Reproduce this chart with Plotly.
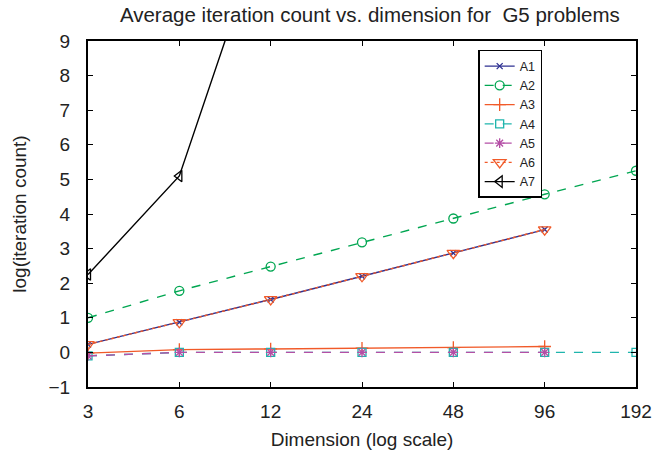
import plotly.graph_objects as go

dims = [3, 6, 12, 24, 48, 96, 192]
tick_labels = ["3", "6", "12", "24", "48", "96", "192"]

A1 = [0.23, 0.87, 1.53, 2.20, 2.87, 3.55]
A2 = [1.00, 1.78, 2.48, 3.18, 3.87, 4.57, 5.25]
A3 = [-0.02, 0.08, 0.10, 0.12, 0.14, 0.17]
A4 = [-0.10, 0.0, 0.0, 0.0, 0.0, 0.0, 0.0]
A5 = [-0.10, 0.0, 0.0, 0.0, 0.0, 0.0]
A6 = [0.23, 0.87, 1.53, 2.20, 2.87, 3.55]
A7 = [2.25, 5.10, 12.9]

series = [
    ("A1", A1, "#2e3192", "solid", "x-thin-open", 6),
    ("A2", A2, "#00a651", "dash", "circle-open", 9),
    ("A3", A3, "#f15a29", "solid", "cross-thin-open", 9),
    ("A4", A4, "#1fb5ad", "dash", "square-open", 8),
    ("A5", A5, "#b44fa6", "dash", "asterisk-open", 8),
    ("A6", A6, "#f15a29", "dot", "triangle-down-open", 11),
    ("A7", A7, "#000000", "solid", "triangle-left-open", 10),
]

fig = go.Figure()
for name, ys, color, dash, sym, size in series:
    fig.add_trace(go.Scatter(
        x=dims[:len(ys)], y=ys, name=name, mode="lines+markers",
        line=dict(color=color, width=1.4, dash=dash),
        marker=dict(symbol=sym, size=size, color=color, line=dict(color=color, width=1.3)),
    ))

axis_common = dict(showline=True, linecolor="black", linewidth=2, mirror="ticks",
                   ticks="inside", ticklen=5, tickcolor="black", showgrid=False,
                   zeroline=False, tickfont=dict(size=19, color="#222"))

fig.update_layout(
    width=664, height=462,
    margin=dict(l=88, r=20, t=41, b=75),
    paper_bgcolor="white", plot_bgcolor="white",
    font=dict(family="Liberation Sans, Arial, sans-serif", color="#222"),
    title=dict(text="Average iteration count vs. dimension for  G5 problems",
               x=0.557, xanchor="center", y=0.968, yanchor="middle",
               font=dict(size=20.5)),
    xaxis=dict(type="log", range=[0.4771, 2.2833], tickvals=dims, ticktext=tick_labels,
               ticklabelstandoff=6,
               title=dict(text="Dimension (log scale)", font=dict(size=19), standoff=12),
               **axis_common),
    yaxis=dict(range=[-1, 9], dtick=1, ticklabelstandoff=12,
               title=dict(text="log(iteration count)", font=dict(size=19), standoff=17),
               **axis_common),
    legend=dict(x=0.712, y=0.974, xanchor="left", yanchor="top",
                bordercolor="black", borderwidth=1.5, bgcolor="white",
                font=dict(size=12.5), tracegroupgap=0, itemwidth=30),
    showlegend=True,
)

fig.write_html("out.html")
